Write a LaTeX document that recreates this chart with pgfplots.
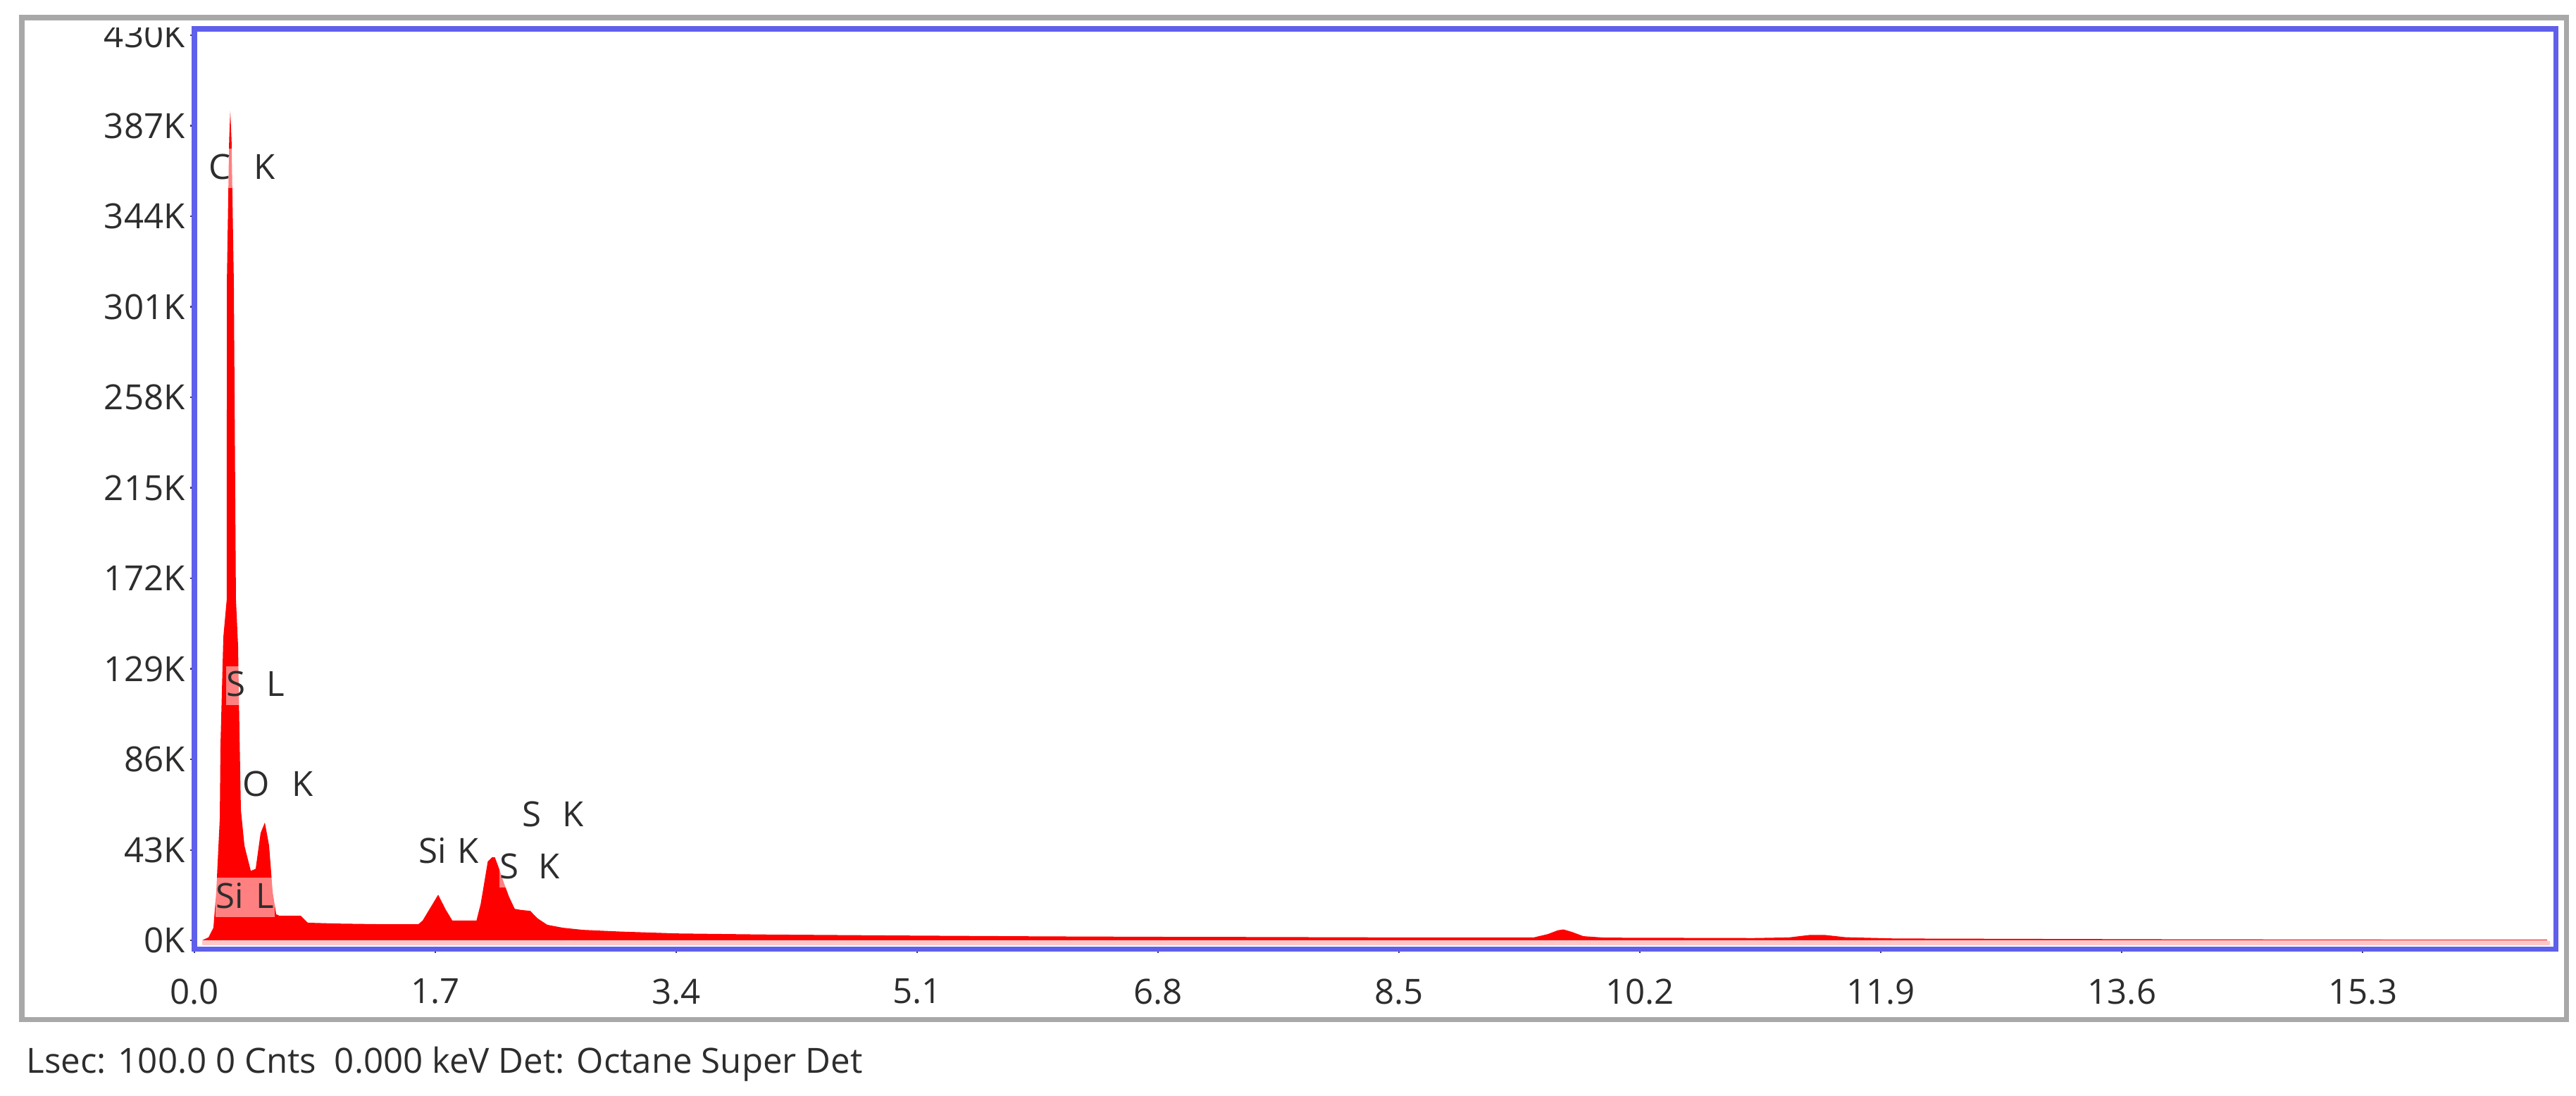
\documentclass[border=0pt]{standalone}
\usepackage{fontspec}
\setmainfont{Open Sans}
\usepackage{pgfplots}
\pgfplotsset{compat=1.18}
\definecolor{frameblue}{RGB}{95,95,235}
\definecolor{specred}{RGB}{255,0,0}
\definecolor{framegray}{RGB}{168,168,168}
\definecolor{txt}{RGB}{45,45,45}
\tikzset{lbl/.style={anchor=west, fill=white, fill opacity=0.5, text opacity=1, text=txt,
    font=\fontsize{14}{16}\selectfont, inner xsep=0.1mm, inner ysep=0.3em,
    text height=0.92em, text depth=0.07em}}
\begin{document}
\begin{tikzpicture}[x=1mm,y=1mm]
\path[use as bounding box] (0,0) rectangle (365.7,155.5);
\begin{axis}[at={(27.6mm,20.8mm)}, anchor=south west, scale only axis,
  width=335.2mm, height=130.6mm,
  xmin=0, xmax=16.66, ymin=-4, ymax=433,
  axis line style={frameblue, line width=2pt},
  xtick={0,1.7,3.4,5.1,6.8,8.5,10.2,11.9,13.6,15.3},
  xticklabels={0.0,1.7,3.4,5.1,6.8,8.5,10.2,11.9,13.6,15.3},
  ytick={0,43,86,129,172,215,258,301,344,387,430},
  yticklabels={0K,43K,86K,129K,172K,215K,258K,301K,344K,387K,430K},
  tick align=outside, major tick length=0.6mm,
  tick style={frameblue!60!black, line width=0.6pt},
  xtick pos=bottom, ytick pos=left,
  ticklabel style={font=\fontsize{14}{16}\selectfont, text=txt},
  xticklabel style={yshift=-2.4mm},
  yticklabel style={xshift=0.5mm},
  clip mode=individual
]
\addplot[fill=red!22, draw=none] coordinates {
(0.055,-0.3) (16.62,-0.3) (16.62,-2.2) (0.055,-2.2)} -- cycle;
\addplot[fill=specred, draw=none] coordinates {
(0.055,0) (0.10,1.5) (0.134,6) (0.154,23) (0.179,58) (0.184,93) (0.204,144)
(0.228,162) (0.229,313) (0.245,380) (0.253,394) (0.262,380) (0.278,313)
(0.293,162) (0.308,140) (0.318,99) (0.328,62) (0.353,45) (0.398,33) (0.432,34)
(0.467,51) (0.497,56) (0.527,45) (0.552,23) (0.577,12.4) (0.601,11.7)
(0.75,11.7) (0.80,8.4) (1.00,8.0) (1.30,7.7) (1.58,7.7) (1.61,9.4) (1.66,15)
(1.72,21.7) (1.77,15) (1.82,9.4) (1.99,9.4) (2.02,17.4) (2.07,37.5) (2.10,39.5)
(2.12,39.5) (2.15,34) (2.18,28) (2.22,20.7) (2.26,15) (2.30,14.5) (2.37,14)
(2.42,10.5) (2.49,7.4) (2.6,6) (2.74,5) (3.0,4.2) (3.4,3.3) (4.0,2.8) (5.0,2.3)
(6.0,1.9) (6.8,1.7) (7.5,1.6) (8.5,1.4) (9.45,1.4) (9.55,3) (9.62,4.8) (9.66,5.2)
(9.72,4) (9.8,2) (9.95,1.3) (11.0,1.1) (11.25,1.4) (11.4,2.6) (11.5,2.6)
(11.65,1.5) (12.0,0.9) (13.0,0.7) (14.0,0.5) (15.0,0.4) (16.0,0.3) (16.6,0.3)
} \closedcycle;
\node[lbl] at (axis cs:0.094,366.6) {\makebox[1.29em][l]{C}K};
\node[lbl] at (axis cs:0.219,121) {\makebox[1.16em][l]{S}L};
\node[lbl] at (axis cs:0.333,73.6) {\makebox[1.41em][l]{O}K};
\node[lbl] at (axis cs:1.576,41.8) {\makebox[1.12em][l]{Si}K};
\node[lbl] at (axis cs:2.306,59.2) {\makebox[1.16em][l]{S}K};
\node[lbl] at (axis cs:2.147,34.3) {\makebox[1.12em][l]{S}K};
\node[lbl] at (axis cs:0.144,20.4) {\makebox[1.16em][l]{Si}L};
\end{axis}
\fill[white] (5,151.6) rectangle (27,152.8);
\draw[framegray, line width=2pt] (3.1,10.8) rectangle (364.3,153.0);
\node[anchor=base west, text=txt, font=\fontsize{14}{16}\selectfont, inner sep=0pt] at (3.7,3.2)
  {Lsec: 100.0 0 Cnts\ \ 0.000 keV Det: Octane Super Det};
\end{tikzpicture}
\end{document}
